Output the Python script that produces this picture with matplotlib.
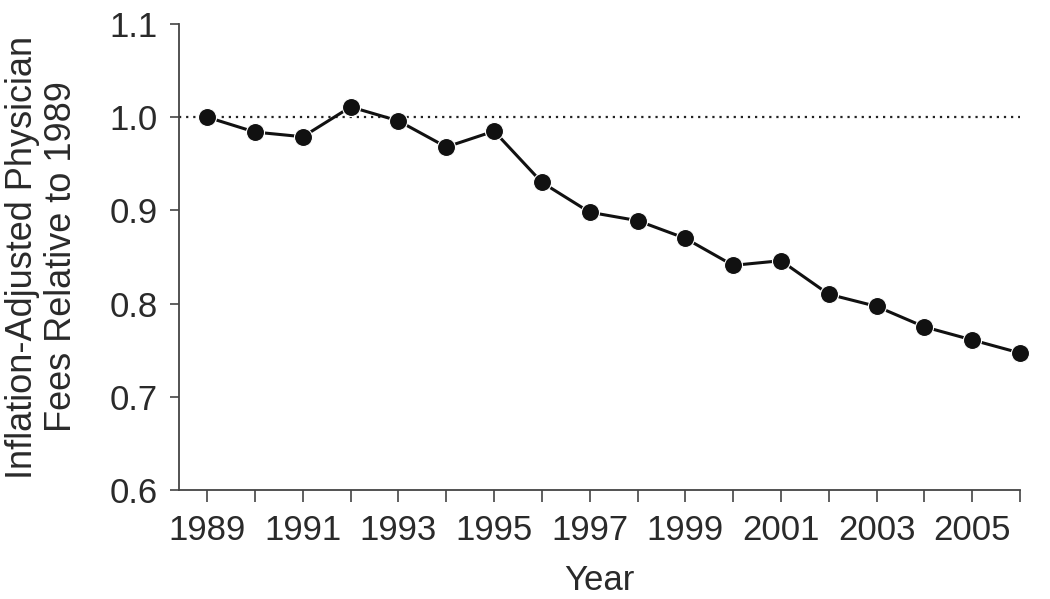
import matplotlib.pyplot as plt
import numpy as np

years = [1989, 1990, 1991, 1992, 1993, 1994, 1995, 1996, 1997,
         1998, 1999, 2000, 2001, 2002, 2003, 2004, 2005, 2006]
fees = [1.000, 0.984, 0.979, 1.011, 0.996, 0.968, 0.985, 0.930, 0.898,
        0.889, 0.870, 0.841, 0.846, 0.810, 0.797, 0.775, 0.761, 0.747]
ytick_vals = [0.6, 0.7, 0.8, 0.9, 1.0, 1.1]
xtick_labels = ['1989', '1991', '1993', '1995', '1997', '1999', '2001', '2003', '2005']

plt.rcParams['font.family'] = ['Liberation Sans', 'DejaVu Sans']
text_color = '#2a2a2a'

fig = plt.figure(figsize=(10.5, 5.99), dpi=100)
ax = fig.add_axes([0.1705, 0.182, 0.8009, 0.778])

# baseline at 1989 level
ax.axhline(1.0, color='#222222', linestyle=(0, (1, 2.2)), linewidth=1.6, zorder=1)

ax.plot(years, fees, '-o', color='#111111', linewidth=2.2, markersize=13,
        markerfacecolor='#111111', markeredgecolor='white', markeredgewidth=0.8,
        zorder=3, clip_on=False)

ax.set_xlim(1988.41, 2006)
ax.set_ylim(0.6, 1.1)
ax.set_yticks(ytick_vals)
ax.set_yticklabels([f'{v:.1f}' for v in ytick_vals])
ax.set_xticks(years)
ax.set_xticklabels([str(y) if str(y) in xtick_labels else '' for y in years])

for side in ['top', 'right']:
    ax.spines[side].set_visible(False)
for side in ['left', 'bottom']:
    ax.spines[side].set_color('#444444')
    ax.spines[side].set_linewidth(1.3)

ax.tick_params(axis='x', length=8.5, width=1.2, color='#444444',
               labelsize=25, labelcolor=text_color, pad=9)
ax.tick_params(axis='y', length=6.5, width=1.2, color='#444444',
               labelsize=25, labelcolor=text_color, pad=9)

ax.set_xlabel('Year', fontsize=25, color=text_color, labelpad=12)
ax.set_ylabel('Inflation-Adjusted Physician\nFees Relative to 1989',
              fontsize=26, color=text_color, labelpad=22, linespacing=1.15)

plt.savefig('out.png', dpi=100)
